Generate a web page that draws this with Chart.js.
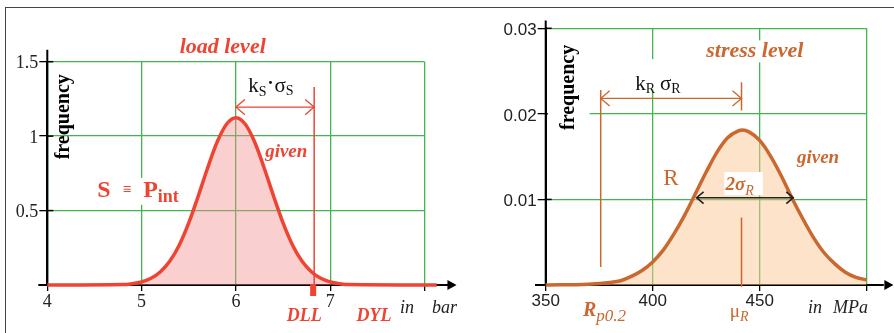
<!DOCTYPE html>
<html>
<head>
<meta charset="utf-8">
<script src="https://cdn.jsdelivr.net/npm/chart.js@4.4.1/dist/chart.umd.min.js"></script>
<style>
  body { margin: 0; background: #fff; }
  #wrap { position: relative; width: 894px; height: 333px; overflow: hidden; background: #fff; }
  #frame { position: absolute; left: 5px; top: 7px; width: 1000px; height: 500px; border-left: 1.5px solid #444; border-top: 1.5px solid #444; }
  canvas { position: absolute; top: 0; }
  #loadChart { left: 0; }
  #stressChart { left: 450px; }
</style>
</head>
<body>
<div id="wrap">
  <div id="frame"></div>
  <canvas id="loadChart" width="470" height="333"></canvas>
  <canvas id="stressChart" width="444" height="333"></canvas>
</div>
<script>
// Load distribution (left), in bar
const loadX = [4.0, 4.8, 4.9, 5.0, 5.1, 5.2, 5.3, 5.4, 5.5, 5.6, 5.7, 5.8, 5.9, 6.0,
               6.1, 6.2, 6.3, 6.4, 6.5, 6.6, 6.7, 6.8, 6.9, 7.0, 7.1, 7.2, 8.13];
const loadY = [0, 0.003, 0.009, 0.021, 0.045, 0.089, 0.161, 0.269, 0.417, 0.596, 0.786, 0.959, 1.080, 1.124,
               1.080, 0.959, 0.786, 0.596, 0.417, 0.269, 0.161, 0.089, 0.045, 0.021, 0.009, 0.003, 0];
const loadXTicks = [4, 5, 6, 7];
const loadYTicks = [0.5, 1, 1.5];
const loadMean = 6.0;
const loadDLL = 6.83;

// Stress distribution (right), in MPa
const stressX = [350, 370, 380, 385, 390, 395, 400, 405, 410, 415, 420, 425, 430, 435, 440, 442,
                 445, 450, 455, 460, 465, 470, 475, 480, 485, 490, 495, 500];
const stressY = [0, 0.0001, 0.0003, 0.0005, 0.0010, 0.0017, 0.0027, 0.0041, 0.0060, 0.0082, 0.0107, 0.0132, 0.0155, 0.0172, 0.0180, 0.0181,
                 0.0179, 0.0169, 0.0151, 0.0128, 0.0102, 0.0078, 0.0056, 0.0038, 0.0025, 0.0015, 0.0009, 0.0006];
const stressXTicks = [350, 400, 450];
const stressYTicks = [0.01, 0.02, 0.03];
const stressMean = 441.5;
const stressRp02 = 375.7;
const stressSigmaLo = 420.5;
const stressSigmaHi = 465.7;

const SERIF = '"Liberation Serif", "DejaVu Serif", serif';
const SANS = '"Liberation Sans", Arial, sans-serif';
const GREEN = '#41b54e';
const RED = '#ee4433';
const BROWN = '#c9682f';

function tickLabel(list) {
  return v => {
    const hit = list.find(t => Math.abs(t - v) < 1e-9);
    return hit === undefined ? '' : String(hit);
  };
}

// draw a row of text pieces (for subscripts)
function textRuns(ctx, x, y, parts) {
  parts.forEach(p => {
    ctx.font = p.f;
    ctx.fillStyle = p.c;
    ctx.fillText(p.t, x, y + (p.dy || 0));
    x += ctx.measureText(p.t).width + (p.gap || 0);
  });
  return x;
}

function openHead(ctx, x, y, dir, size) {
  ctx.beginPath();
  ctx.moveTo(x - dir * size, y - size * 0.85);
  ctx.lineTo(x, y);
  ctx.lineTo(x - dir * size, y + size * 0.85);
  ctx.stroke();
}

function solidHead(ctx, x, y, size) {
  ctx.beginPath();
  ctx.moveTo(x, y);
  ctx.lineTo(x - size * 1.3, y - size * 0.7);
  ctx.lineTo(x - size * 1.3, y + size * 0.7);
  ctx.closePath();
  ctx.fill();
}

function axisSetup(xMin, xMax, xStep, yMax, yStep, xTicks, yTicks, yWidth, tickFont) {
  return {
    x: {
      type: 'linear', min: xMin, max: xMax,
      ticks: { stepSize: xStep, color: '#222', font: tickFont, padding: 0, maxRotation: 0, autoSkip: false,
               callback: tickLabel(xTicks) },
      grid: { color: GREEN, lineWidth: 1.3, tickColor: '#000', tickLength: 6 },
      border: { color: '#000', width: 2 },
      afterFit: s => { s.height = 30; }
    },
    y: {
      min: 0, max: yMax,
      ticks: { stepSize: yStep, color: '#222', font: tickFont, padding: 1, autoSkip: false, labelOffset: 2,
               callback: tickLabel(yTicks) },
      grid: { color: GREEN, lineWidth: 1.3, tickColor: '#000', tickLength: 8 },
      border: { color: '#000', width: 2 },
      afterFit: s => { s.width = yWidth; }
    }
  };
}

const loadDecor = {
  id: 'loadDecor',
  beforeDatasetsDraw(chart) {
    const { ctx, scales: { x, y } } = chart;
    const X = v => x.getPixelForValue(v), Y = v => y.getPixelForValue(v);
    ctx.save();
    ctx.strokeStyle = '#000'; ctx.fillStyle = '#000'; ctx.lineWidth = 2;
    ctx.beginPath();
    ctx.moveTo(X(4) - 9, Y(0)); ctx.lineTo(X(8.28), Y(0));
    ctx.moveTo(X(4), Y(0)); ctx.lineTo(X(4), Y(1.58));
    ctx.stroke();
    solidHead(ctx, X(8.34), Y(0), 7);
    ctx.lineWidth = 1.5;
    loadYTicks.forEach(t => { ctx.beginPath(); ctx.moveTo(X(4), Y(t)); ctx.lineTo(X(4) + 6, Y(t)); ctx.stroke(); });
    ctx.restore();
  },
  afterDatasetsDraw(chart) {
    const { ctx, scales: { x, y } } = chart;
    const X = v => x.getPixelForValue(v), Y = v => y.getPixelForValue(v);
    ctx.save();
    ctx.textBaseline = 'alphabetic';
    // title
    ctx.font = 'italic bold 22px ' + SERIF; ctx.fillStyle = RED; ctx.textAlign = 'center';
    ctx.fillText('load level', X(5.86), Y(1.56));
    ctx.textAlign = 'left';
    // frequency label
    ctx.save();
    ctx.translate(X(4.22), Y(1.13));
    ctx.rotate(-Math.PI / 2);
    ctx.font = 'bold 20px ' + SERIF; ctx.fillStyle = '#000'; ctx.textAlign = 'center';
    ctx.fillText('frequency', 0, 1);
    ctx.restore();
    // DLL line + marker
    ctx.strokeStyle = RED; ctx.lineWidth = 1.5;
    ctx.beginPath(); ctx.moveTo(X(loadDLL), Y(1.33)); ctx.lineTo(X(loadDLL), Y(0)); ctx.stroke();
    ctx.fillStyle = RED;
    ctx.fillRect(X(loadDLL) - 4, Y(0) - 1, 6, 12);
    // k*sigma arrow
    ctx.lineWidth = 1.3;
    ctx.beginPath(); ctx.moveTo(X(loadMean), Y(1.195)); ctx.lineTo(X(loadDLL), Y(1.195)); ctx.stroke();
    openHead(ctx, X(loadMean), Y(1.195), -1, 9);
    openHead(ctx, X(loadDLL), Y(1.195), 1, 9);
    textRuns(ctx, X(6.13), Y(1.295), [
      { t: 'k', f: '21px ' + SERIF, c: '#111' },
      { t: 'S', f: '14px ' + SERIF, c: '#111', dy: 4, gap: 1 },
      { t: '·', f: 'bold 18px ' + SERIF, c: '#111', dy: -3, gap: 1 },
      { t: 'σ', f: '21px ' + SERIF, c: '#111' },
      { t: 'S', f: '14px ' + SERIF, c: '#111', dy: 3 }
    ]);
    // given
    ctx.font = 'italic bold 19px ' + SERIF; ctx.fillStyle = RED;
    ctx.fillText('given', X(6.31), Y(0.86));
    // S = P_int
    ctx.fillStyle = '#fff';
    ctx.fillRect(X(4.45), Y(0.72), X(5.42) - X(4.45), 27);
    textRuns(ctx, X(4.53), Y(0.59), [
      { t: 'S', f: 'bold 24px ' + SERIF, c: RED, gap: 12 },
      { t: '≡', f: 'bold 15px ' + SERIF, c: RED, dy: -3, gap: 12 },
      { t: 'P', f: 'bold 24px ' + SERIF, c: RED },
      { t: 'int', f: 'bold 18px ' + SERIF, c: RED, dy: 5 }
    ]);
    // bottom labels
    ctx.font = 'italic bold 18px ' + SERIF; ctx.fillStyle = RED;
    ctx.fillText('DLL', X(6.54), Y(-0.24));
    ctx.fillText('DYL', X(7.28), Y(-0.24));
    ctx.font = 'italic 18px ' + SERIF; ctx.fillStyle = '#222';
    ctx.fillText('in', X(7.74), Y(-0.19));
    ctx.fillText('bar', X(8.08), Y(-0.19));
    ctx.restore();
  }
};

const stressDecor = {
  id: 'stressDecor',
  beforeDatasetsDraw(chart) {
    const { ctx, scales: { x, y } } = chart;
    const X = v => x.getPixelForValue(v), Y = v => y.getPixelForValue(v);
    ctx.save();
    ctx.strokeStyle = '#000'; ctx.fillStyle = '#000'; ctx.lineWidth = 2;
    ctx.beginPath();
    ctx.moveTo(X(345), Y(0)); ctx.lineTo(X(508), Y(0));
    ctx.moveTo(X(350), Y(0)); ctx.lineTo(X(350), Y(0.0309));
    ctx.stroke();
    solidHead(ctx, X(512.5), Y(0), 7);
    ctx.lineWidth = 1.5;
    stressYTicks.forEach(t => { ctx.beginPath(); ctx.moveTo(X(350), Y(t)); ctx.lineTo(X(350) + 6, Y(t)); ctx.stroke(); });
    ctx.restore();
  },
  afterDatasetsDraw(chart) {
    const { ctx, scales: { x, y } } = chart;
    const X = v => x.getPixelForValue(v), Y = v => y.getPixelForValue(v);
    ctx.save();
    ctx.textBaseline = 'alphabetic';
    // title
    ctx.font = 'italic bold 22px ' + SERIF;
    const tw = ctx.measureText('stress level').width;
    ctx.fillStyle = '#fff';
    ctx.fillRect(X(447.7) - tw / 2 - 2, Y(0.0266) - 17, tw + 4, 22);
    ctx.fillStyle = BROWN; ctx.textAlign = 'center';
    ctx.fillText('stress level', X(447.7), Y(0.0266));
    ctx.textAlign = 'left';
    // frequency label with white box
    ctx.fillStyle = '#fff';
    ctx.fillRect(X(351), Y(0.0286), X(370.5) - X(351), Y(0.0181) - Y(0.0286));
    ctx.save();
    ctx.translate(X(360.3), Y(0.0231));
    ctx.rotate(-Math.PI / 2);
    ctx.font = 'bold 20px ' + SERIF; ctx.fillStyle = '#000'; ctx.textAlign = 'center';
    ctx.fillText('frequency', 0, 6);
    ctx.restore();
    // Rp0.2 line and mean line
    ctx.strokeStyle = BROWN; ctx.lineWidth = 1.5;
    ctx.beginPath();
    ctx.moveTo(X(stressRp02), Y(0.0228)); ctx.lineTo(X(stressRp02), Y(0.0021));
    ctx.moveTo(X(stressMean), Y(0.0237)); ctx.lineTo(X(stressMean), Y(0.0204));
    ctx.moveTo(X(stressMean), Y(0.0079)); ctx.lineTo(X(stressMean), Y(-0.0002));
    ctx.stroke();
    // kR sigmaR arrow
    ctx.lineWidth = 1.3;
    ctx.beginPath(); ctx.moveTo(X(stressRp02), Y(0.0218)); ctx.lineTo(X(stressMean), Y(0.0218)); ctx.stroke();
    openHead(ctx, X(stressRp02), Y(0.0218), -1, 9);
    openHead(ctx, X(stressMean), Y(0.0218), 1, 9);
    ctx.fillStyle = '#fff';
    ctx.fillRect(X(391), Y(0.0264), X(416.5) - X(391), 30);
    textRuns(ctx, X(391.8), Y(0.0228), [
      { t: 'k', f: '21px ' + SERIF, c: '#111' },
      { t: 'R', f: '14px ' + SERIF, c: '#111', dy: 3, gap: 5 },
      { t: 'σ', f: '21px ' + SERIF, c: '#111' },
      { t: 'R', f: '14px ' + SERIF, c: '#111', dy: 3 }
    ]);
    // R and given
    ctx.font = '23px ' + SERIF; ctx.fillStyle = BROWN;
    ctx.fillText('R', X(404.9), Y(0.0117));
    ctx.font = 'italic bold 19px ' + SERIF;
    ctx.fillText('given', X(467.4), Y(0.01425));
    // 2 sigma box + arrow
    ctx.fillStyle = '#fff';
    ctx.fillRect(X(433.5), Y(0.0132), X(451.5) - X(433.5), 23);
    textRuns(ctx, X(434), Y(0.0111), [
      { t: '2σ', f: 'italic bold 19px ' + SERIF, c: BROWN },
      { t: 'R', f: 'italic 14px ' + SERIF, c: BROWN, dy: 5 }
    ]);
    ctx.strokeStyle = '#222'; ctx.lineWidth = 1.6;
    ctx.beginPath(); ctx.moveTo(X(stressSigmaLo), Y(0.0102)); ctx.lineTo(X(stressSigmaHi), Y(0.0102)); ctx.stroke();
    openHead(ctx, X(stressSigmaLo), Y(0.0102), -1, 7);
    openHead(ctx, X(stressSigmaHi), Y(0.0102), 1, 7);
    // bottom labels
    textRuns(ctx, X(367.4), Y(-0.0036), [
      { t: 'R', f: 'italic bold 20px ' + SERIF, c: BROWN },
      { t: 'p0.2', f: 'italic 17px ' + SERIF, c: BROWN, dy: 5 }
    ]);
    textRuns(ctx, X(436), Y(-0.0037), [
      { t: 'μ', f: '19px ' + SERIF, c: BROWN },
      { t: 'R', f: 'italic 14px ' + SERIF, c: BROWN, dy: 4 }
    ]);
    ctx.font = 'italic 18px ' + SERIF; ctx.fillStyle = '#222';
    ctx.fillText('in', X(472.6), Y(-0.0033));
    ctx.fillText('MPa', X(484.3), Y(-0.0033));
    ctx.restore();
  }
};

new Chart(document.getElementById('loadChart'), {
  type: 'line',
  data: {
    datasets: [{
      data: loadX.map((v, i) => ({ x: v, y: loadY[i] })),
      borderColor: RED,
      backgroundColor: 'rgba(240, 140, 140, 0.42)',
      borderWidth: 3.5,
      pointRadius: 0,
      fill: 'origin',
      cubicInterpolationMode: 'monotone',
      clip: false
    }]
  },
  options: {
    responsive: false,
    animation: false,
    devicePixelRatio: 1,
    layout: { padding: { left: 0, top: 61.7, right: 45.5, bottom: 18 } },
    plugins: { legend: { display: false }, tooltip: { enabled: false } },
    scales: axisSetup(4, 8, 1, 1.5, 0.5, loadXTicks, loadYTicks, 47.3, { family: SERIF, size: 18 })
  },
  plugins: [loadDecor]
});

new Chart(document.getElementById('stressChart'), {
  type: 'line',
  data: {
    datasets: [{
      data: stressX.map((v, i) => ({ x: v, y: stressY[i] })),
      borderColor: BROWN,
      backgroundColor: 'rgba(251, 200, 150, 0.5)',
      borderWidth: 3.5,
      pointRadius: 0,
      fill: 'origin',
      cubicInterpolationMode: 'monotone',
      clip: false
    }]
  },
  options: {
    responsive: false,
    animation: false,
    devicePixelRatio: 1,
    layout: { padding: { left: 0, top: 28.3, right: 27.3, bottom: 18 } },
    plugins: { legend: { display: false }, tooltip: { enabled: false } },
    scales: axisSetup(350, 500, 50, 0.03, 0.01, stressXTicks, stressYTicks, 95.7, { family: SANS, size: 17 })
  },
  plugins: [stressDecor]
});
</script>
</body>
</html>
